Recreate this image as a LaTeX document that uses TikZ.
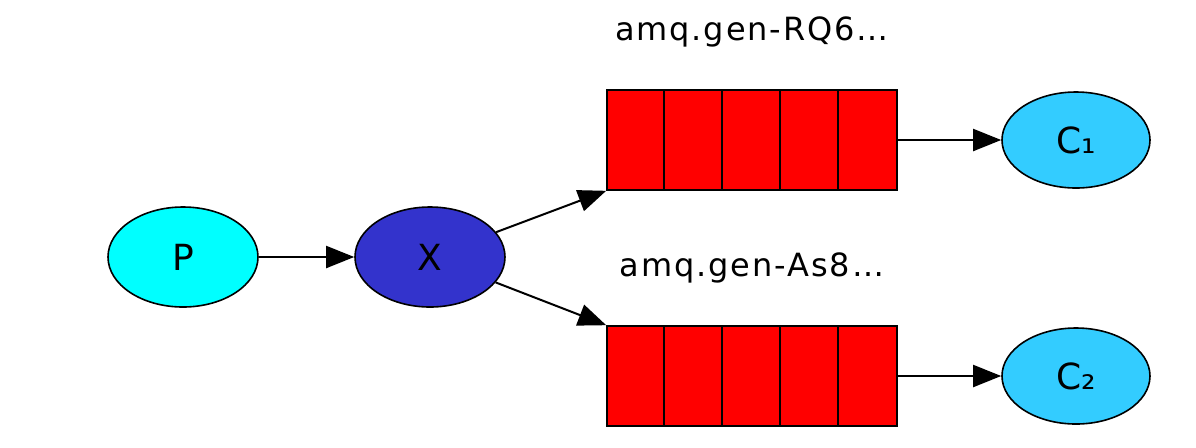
\documentclass[tikz,border=0pt]{standalone}
\usepackage{fontspec}
\setmainfont{DejaVu Sans}
\usetikzlibrary{arrows.meta,positioning,shapes.geometric}
\definecolor{QRed}{HTML}{FF0000}
\definecolor{PCyan}{HTML}{00FFFF}
\definecolor{XBlue}{HTML}{3333CC}
\definecolor{CBlue}{HTML}{33CCFF}

\begin{document}
\begin{tikzpicture}[x=0.5pt,y=-0.5pt,
  party/.style={ellipse,draw=black,line width=0.8pt,minimum width=75pt,
    minimum height=50pt,inner sep=0pt,font=\fontsize{18}{20}\selectfont},
  queue/.style={draw=black,fill=QRed,line width=0.8pt,minimum width=145pt,
    minimum height=50pt,inner sep=0pt},
  qname/.style={inner sep=0pt,
    font=\fontsize{16}{18}\selectfont\addfontfeatures{LetterSpace=6}},
  a/.style={-{Triangle[length=14pt,width=11pt]},line width=1pt}
]
  \useasboundingbox (0,0) rectangle (1196,447);
  \node[party,fill=PCyan] (p) at (183,257) {P};
  \node[party,fill=XBlue] (x) at (430,257) {X};
  \node[queue] (q1) at (752,140) {};
  \node[queue] (q2) at (752,376) {};
  \foreach \q in {q1,q2}
    \foreach \i in {1,...,4}
      \draw[line width=0.8pt] ([xshift=\i*29pt]\q.north west)
        -- ([xshift=\i*29pt]\q.south west);
  \node[qname,above=21pt of q1] (n1) {amq.gen-RQ6…};
  \node[qname,above=21pt of q2] (n2) {amq.gen-As8…};
  \node[party,fill=CBlue,minimum width=74pt,minimum height=48pt] (c1)
    at (1076,140) {C₁};
  \node[party,fill=CBlue,minimum width=74pt,minimum height=48pt] (c2)
    at (1076,376) {C₂};
  \draw[a] (p) -- (x);
  \draw[a] (x) -- (q1.south west);
  \draw[a] (x) -- (q2.north west);
  \draw[a] (q1) -- (c1);
  \draw[a] (q2) -- (c2);
\end{tikzpicture}
\end{document}
